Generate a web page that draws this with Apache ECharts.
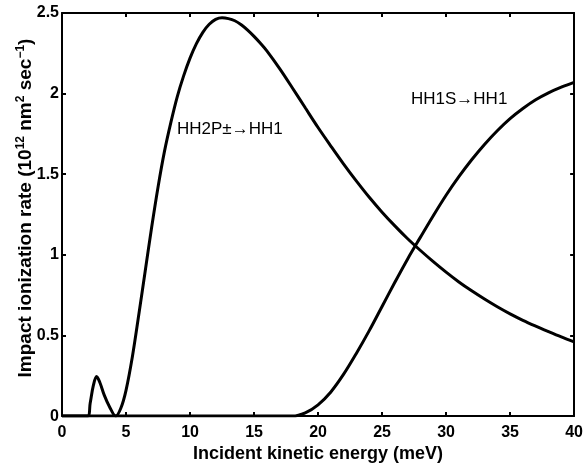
<!DOCTYPE html>
<html>
<head>
<meta charset="utf-8">
<script src="https://cdn.jsdelivr.net/npm/echarts@6/dist/echarts.min.js"></script>
<style>
html,body{margin:0;padding:0;background:#fff;}
#c{width:586px;height:468px;}
</style>
</head>
<body>
<div id="c"></div>
<script>
// Data
var xTicks = [0, 5, 10, 15, 20, 25, 30, 35, 40];
var yTicks = [0, 0.5, 1, 1.5, 2, 2.5];

var hh2pX = [0, 1, 2, 2.2, 2.45, 2.7, 2.95, 3.3, 3.7, 4.2, 4.6, 5.0, 5.5, 6, 6.5, 7, 7.5, 8, 8.5, 9, 9.5, 10, 10.5, 11, 11.5, 12, 12.5, 13, 13.5, 14, 14.5, 15, 15.5, 16, 17, 18, 19, 20, 21, 22, 23, 24, 25, 26, 27, 28, 29, 30, 31, 32, 33, 34, 35, 36, 37, 38, 39, 40];
var hh2pY = [0, 0, 0, 0.08, 0.19, 0.245, 0.21, 0.13, 0.06, 0, 0.05, 0.16, 0.37, 0.63, 0.9, 1.17, 1.42, 1.64, 1.82, 1.98, 2.11, 2.22, 2.31, 2.38, 2.43, 2.46, 2.47, 2.465, 2.452, 2.427, 2.394, 2.355, 2.312, 2.265, 2.155, 2.035, 1.912, 1.79, 1.675, 1.563, 1.457, 1.357, 1.265, 1.18, 1.1, 1.027, 0.958, 0.893, 0.832, 0.777, 0.726, 0.678, 0.634, 0.594, 0.558, 0.524, 0.491, 0.46];

var hh1sX = [0, 10, 17, 18, 19, 20, 21, 22, 23, 24, 25, 26, 27, 28, 29, 30, 31, 32, 33, 34, 35, 36, 37, 38, 39, 40];
var hh1sY = [0, 0, 0, 0, 0.02, 0.07, 0.15, 0.26, 0.39, 0.53, 0.68, 0.83, 0.975, 1.11, 1.243, 1.37, 1.485, 1.59, 1.685, 1.77, 1.845, 1.908, 1.962, 2.005, 2.04, 2.07];

var label1 = 'HH2P\u00B1\u2192HH1';
var label2 = 'HH1S\u2192HH1';

function pairs(xs, ys) { return xs.map(function (x, i) { return [x, ys[i]]; }); }

var FONT = '"Liberation Sans", Arial, Helvetica, sans-serif';
var axisCommon = {
  axisLine: { show: true, onZero: false, lineStyle: { color: '#000', width: 2 } },
  axisTick: { show: true, inside: true, length: 4, lineStyle: { color: '#000', width: 2 } },
  splitLine: { show: false }
};

var chart = echarts.init(document.getElementById('c'), null, { renderer: 'canvas' });
chart.setOption({
  animation: false,
  backgroundColor: '#fff',
  grid: { left: 62, right: 8, top: 13, bottom: 51, containLabel: false },
  xAxis: [
    Object.assign({
      type: 'value', min: 0, max: 40, interval: 5, position: 'bottom',
      name: 'Incident kinetic energy (meV)', nameLocation: 'middle', nameGap: 25,
      nameTextStyle: { fontFamily: FONT, fontWeight: 'bold', fontSize: 18, color: '#000' },
      axisLabel: { color: '#000', fontFamily: FONT, fontWeight: 'bold', fontSize: 16, margin: 8,
        formatter: function (v) { return xTicks.indexOf(v) >= 0 ? String(v) : ''; } }
    }, axisCommon),
    Object.assign({
      type: 'value', min: 0, max: 40, interval: 5, position: 'top',
      axisLabel: { show: false }
    }, axisCommon)
  ],
  yAxis: [
    Object.assign({
      type: 'value', min: 0, max: 2.5, interval: 0.5, position: 'left',
      axisLabel: { color: '#000', fontFamily: FONT, fontWeight: 'bold', fontSize: 16, margin: 3,
        formatter: function (v) { return yTicks.indexOf(v) >= 0 ? String(v) : ''; } }
    }, axisCommon),
    Object.assign({
      type: 'value', min: 0, max: 2.5, interval: 0.5, position: 'right',
      axisLabel: { show: false }
    }, axisCommon)
  ],
  series: [
    { type: 'line', name: label1, data: pairs(hh2pX, hh2pY), smooth: 0.35, showSymbol: false,
      lineStyle: { color: '#000', width: 3 }, z: 3 },
    { type: 'line', name: label2, data: pairs(hh1sX, hh1sY), smooth: 0.35, showSymbol: false,
      lineStyle: { color: '#000', width: 3 }, z: 3 }
  ],
  graphic: [
    { type: 'text', left: 177, top: 121, style: { text: label1, fontFamily: FONT, fontSize: 17, fill: '#000' } },
    { type: 'text', left: 411, top: 91, style: { text: label2, fontFamily: FONT, fontSize: 17, fill: '#000' } },
    { type: 'text', x: 25, y: 208, rotation: Math.PI / 2,
      style: {
        text: '{a|Impact ionization rate (10}{s|12}{a| nm}{s|2}{a| sec}{s|\u22121}{a|)}',
        align: 'center', verticalAlign: 'middle',
        rich: {
          a: { fontFamily: FONT, fontWeight: 'bold', fontSize: 19, fill: '#000', lineHeight: 21, verticalAlign: 'bottom' },
          s: { fontFamily: FONT, fontWeight: 'bold', fontSize: 12, fill: '#000', lineHeight: 12, verticalAlign: 'top' }
        }
      }
    }
  ]
});
</script>
</body>
</html>
